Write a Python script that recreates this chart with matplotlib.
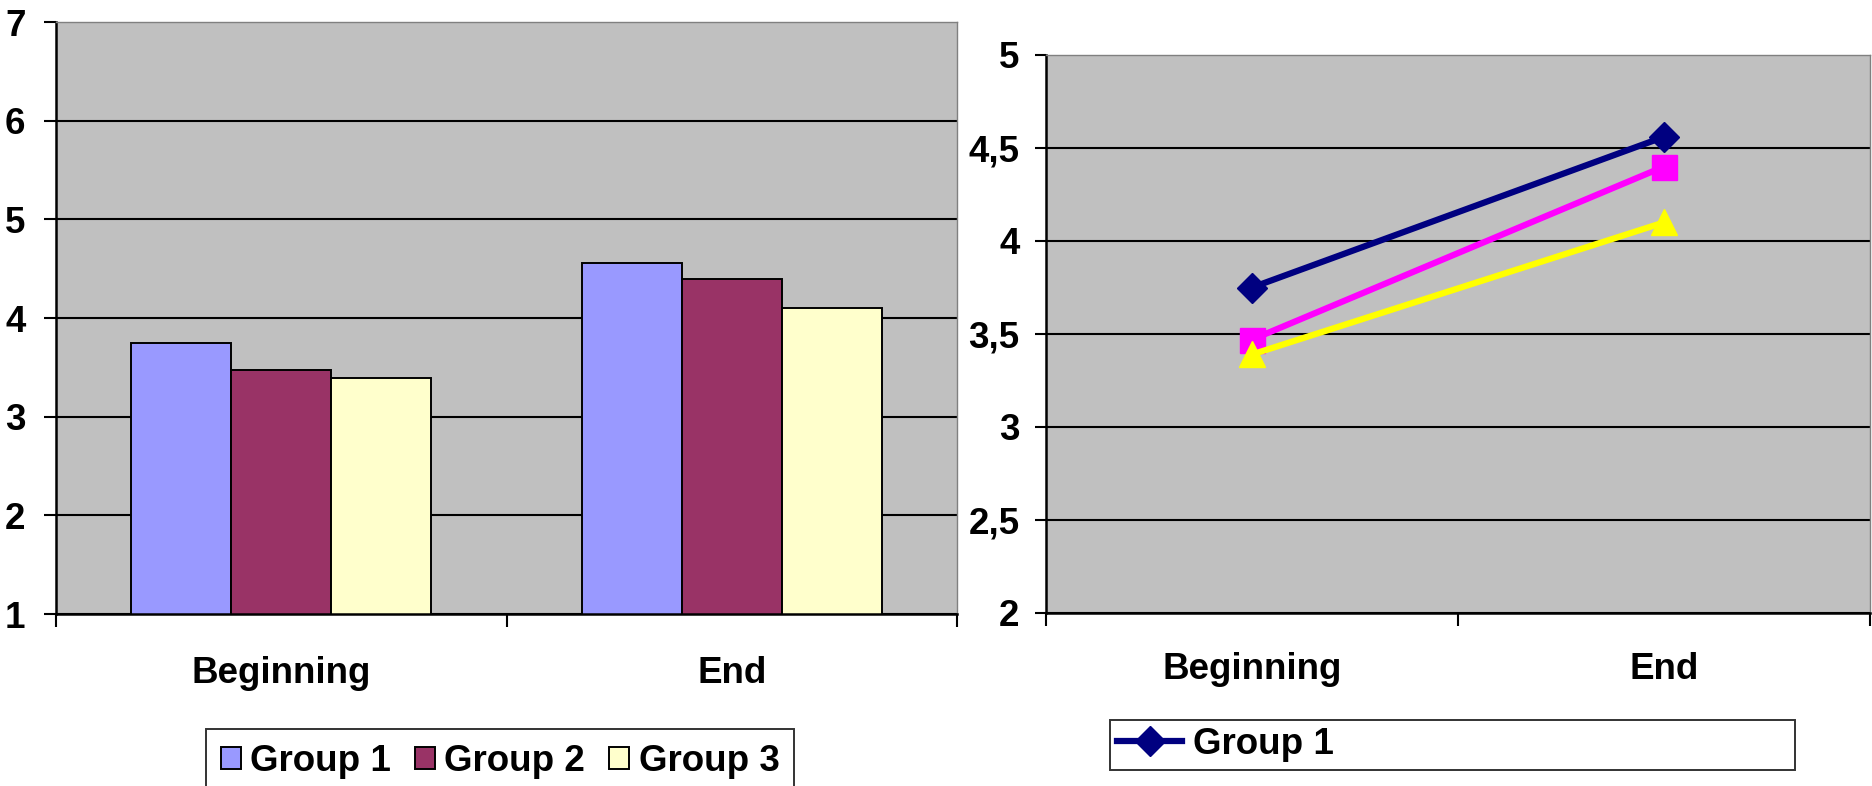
import matplotlib
matplotlib.use("Agg")
import matplotlib.pyplot as plt
import numpy as np
from matplotlib.ticker import FixedLocator, FuncFormatter, NullFormatter

# Survey scores per group at the beginning and the end of the course
categories = ["Beginning", "End"]
group_names = ["Group 1", "Group 2", "Group 3"]
group1 = [3.75, 4.56]
group2 = [3.47, 4.40]
group3 = [3.39, 4.10]

bar_ticks = [1, 2, 3, 4, 5, 6, 7]
line_ticks = [2, 2.5, 3, 3.5, 4, 4.5, 5]

bar_colors = ["#9999FF", "#993366", "#FFFFCC"]
line_colors = ["#000080", "#FF00FF", "#FFFF00"]
line_markers = ["D", "s", "^"]
marker_sizes = [15, 18, 19]

plt.rcParams["font.family"] = ["Liberation Sans", "DejaVu Sans"]
plt.rcParams["font.weight"] = "bold"
FS = 26.5

fig = plt.figure(figsize=(18.72, 7.86), dpi=100)
W, H = 1872, 786


def axes_at(x0, x1, ytop, ybot):
    return fig.add_axes([x0 / W, 1 - ybot / H, (x1 - x0) / W, (ybot - ytop) / H])


def style_axes(ax, ticklen, ypad, xpad):
    ax.set_facecolor("#C0C0C0")
    ax.set_axisbelow(True)
    for side in ("top", "right"):
        ax.spines[side].set_color("#808080")
        ax.spines[side].set_linewidth(1.0)
    ax.spines["left"].set_linewidth(1.8)
    ax.spines["bottom"].set_linewidth(1.8)
    ax.yaxis.grid(True, color="black", linewidth=1.5)
    ax.yaxis.get_gridlines()[-1].set_visible(False)
    ax.tick_params(axis="y", direction="out", length=ticklen, width=1.5,
                   pad=ypad, labelsize=FS)
    n = len(categories)
    x = np.arange(n)
    ax.set_xlim(-0.5, n - 0.5)
    ax.xaxis.set_major_locator(FixedLocator(x))
    ax.set_xticklabels(categories, fontsize=FS, fontweight="bold")
    ax.xaxis.set_minor_locator(FixedLocator(np.arange(n + 1) - 0.5))
    ax.xaxis.set_minor_formatter(NullFormatter())
    ax.tick_params(axis="x", which="major", length=0, pad=xpad)
    ax.tick_params(axis="x", which="minor", direction="out", length=9, width=1.5)
    for lab in ax.get_yticklabels():
        lab.set_fontweight("bold")


# Left: clustered bars
ax1 = axes_at(56, 957, 22, 614)
x = np.arange(len(categories))
bw = 100 / 450.5
series = [group1, group2, group3]
bars = []
for i, (vals, col, name) in enumerate(zip(series, bar_colors, group_names)):
    b = ax1.bar(x + (i - 1) * bw, vals, width=bw, color=col, edgecolor="black",
                linewidth=1.4, label=name, zorder=2)
    bars.append(b)
ax1.set_ylim(1, 7)
ax1.yaxis.set_major_locator(FixedLocator(bar_ticks))
ax1.yaxis.set_major_formatter(FuncFormatter(lambda v, p: f"{v:g}"))
style_axes(ax1, 9, 13, 30)

# Right: lines with markers
ax2 = axes_at(1046, 1870, 55, 613)
lines = []
for vals, col, mk, ms, name in zip(series, line_colors, line_markers, marker_sizes, group_names):
    ln, = ax2.plot(x, vals, color=col, linewidth=4.5, marker=mk, markersize=ms,
                   markerfacecolor=col, markeredgecolor=col, label=name, zorder=3,
                   clip_on=False)
    lines.append(ln)
ax2.set_ylim(2, 5)
ax2.yaxis.set_major_locator(FixedLocator(line_ticks))
ax2.yaxis.set_major_formatter(FuncFormatter(lambda v, p: f"{v:g}".replace(".", ",")))
style_axes(ax2, 8, 11, 28)

# Legends
leg1 = fig.legend(handles=bars, labels=group_names, ncol=3, loc="upper left",
                  bbox_to_anchor=(206 / W, 1 - 729 / H), prop={"size": FS, "weight": "bold"},
                  handlelength=0.55, handleheight=0.55, handletextpad=0.25,
                  columnspacing=0.65, borderpad=0.4, borderaxespad=0.0,
                  fancybox=False, frameon=True, edgecolor="black")
leg1.get_frame().set_linewidth(1.4)

leg2 = fig.legend(handles=lines[:1], labels=group_names[:1], loc="upper left",
                  bbox_to_anchor=(1110 / W, 1 - 777 / H, (1795 - 1110) / W, 57 / H),
                  mode="expand", prop={"size": FS, "weight": "bold"},
                  handlelength=1.75, handletextpad=0.3, borderpad=0.2,
                  borderaxespad=0.0, fancybox=False, frameon=True, edgecolor="black")
leg2.get_frame().set_linewidth(1.4)

fig.savefig("out.png", dpi=100, facecolor="white")
